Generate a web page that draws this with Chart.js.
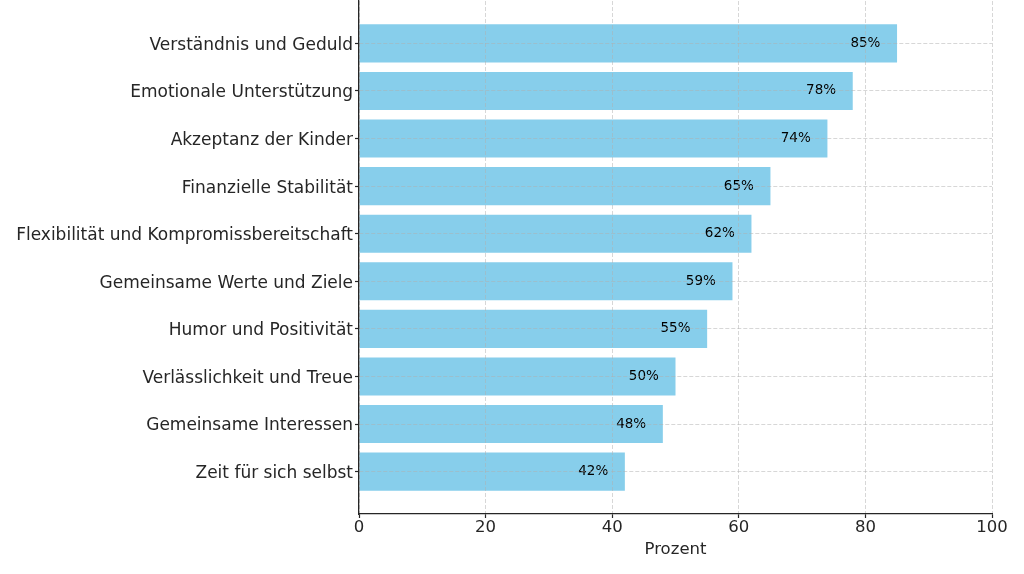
<!DOCTYPE html>
<html><head><meta charset="utf-8">
<script src="https://cdn.jsdelivr.net/npm/chart.js@4"></script>
<style>html,body{margin:0;padding:0;background:#fff}#w{width:1024px;height:574px}</style>
</head><body><div id="w"><canvas id="c" width="1024" height="574"></canvas></div>
<script>
const categories = ["Verständnis und Geduld","Emotionale Unterstützung","Akzeptanz der Kinder","Finanzielle Stabilität","Flexibilität und Kompromissbereitschaft","Gemeinsame Werte und Ziele","Humor und Positivität","Verlässlichkeit und Treue","Gemeinsame Interessen","Zeit für sich selbst"];
const values = [85,78,74,65,62,59,55,50,48,42];
const xTicks = [0,20,40,60,80,100];
const axisTitle = "Prozent";

const FONT = "'DejaVu Sans', sans-serif";
const gridColor = 'rgba(176,176,176,0.5)';
const dark = '#262626';

const labelPlugin = {
  id: 'vlabels',
  afterDatasetsDraw(chart) {
    const ctx = chart.ctx, xs = chart.scales.x, ys = chart.scales.y;
    ctx.save();
    ctx.font = "13.5px " + FONT;
    ctx.fillStyle = '#000';
    ctx.textAlign = 'center';
    ctx.textBaseline = 'middle';
    values.forEach((v, i) => {
      ctx.fillText(v + '%', xs.getPixelForValue(v - 5), ys.getPixelForValue(i));
    });
    ctx.restore();
  }
};

new Chart(document.getElementById('c'), {
  type: 'bar',
  data: {
    datasets: [{
      data: values.map((v, i) => ({x: v, y: i})),
      backgroundColor: '#87CEEB',
      borderWidth: 0,
      barPercentage: 0.8,
      categoryPercentage: 1.0
    }]
  },
  options: {
    indexAxis: 'y',
    responsive: false,
    animation: false,
    layout: {padding: {left: 0, right: 32, top: 1, bottom: 14}},
    plugins: {legend: {display: false}, tooltip: {enabled: false}},
    scales: {
      x: {
        type: 'linear', min: 0, max: 100, offset: false,
        afterBuildTicks(s) { s.ticks = xTicks.map(v => ({value: v})); },
        afterFit(s) { s.height = 46; s.paddingLeft = 0; s.paddingRight = 0; },
        border: {display: true, color: dark, width: 1.3, dash: [4, 2], z: 2},
        grid: {color: gridColor, lineWidth: 1, tickColor: dark, tickLength: 4, tickWidth: 1.2, tickBorderDash: [], offset: false, z: 1},
        ticks: {color: dark, font: {family: FONT, size: 16.5}, padding: 0, maxRotation: 0},
        title: {display: true, text: axisTitle, color: dark, font: {family: FONT, size: 16.5}, padding: {top: 2, bottom: 0}}
      },
      y: {
        type: 'linear', min: -0.89, max: 9.89, reverse: true, offset: false,
        afterBuildTicks(s) { s.ticks = categories.map((c, i) => ({value: i})); },
        afterFit(s) { s.width = 359; s.paddingTop = 0; s.paddingBottom = 0; },
        border: {display: true, color: dark, width: 1.3, dash: [4, 2], z: 2},
        grid: {color: gridColor, lineWidth: 1, tickColor: dark, tickLength: 4, tickWidth: 1.2, tickBorderDash: [], offset: false, z: 1},
        ticks: {color: dark, font: {family: FONT, size: 17}, padding: 2, labelOffset: 2, autoSkip: false,
          callback: (v) => categories[v] ?? ''}
      }
    }
  },
  plugins: [labelPlugin]
});
</script></body></html>
